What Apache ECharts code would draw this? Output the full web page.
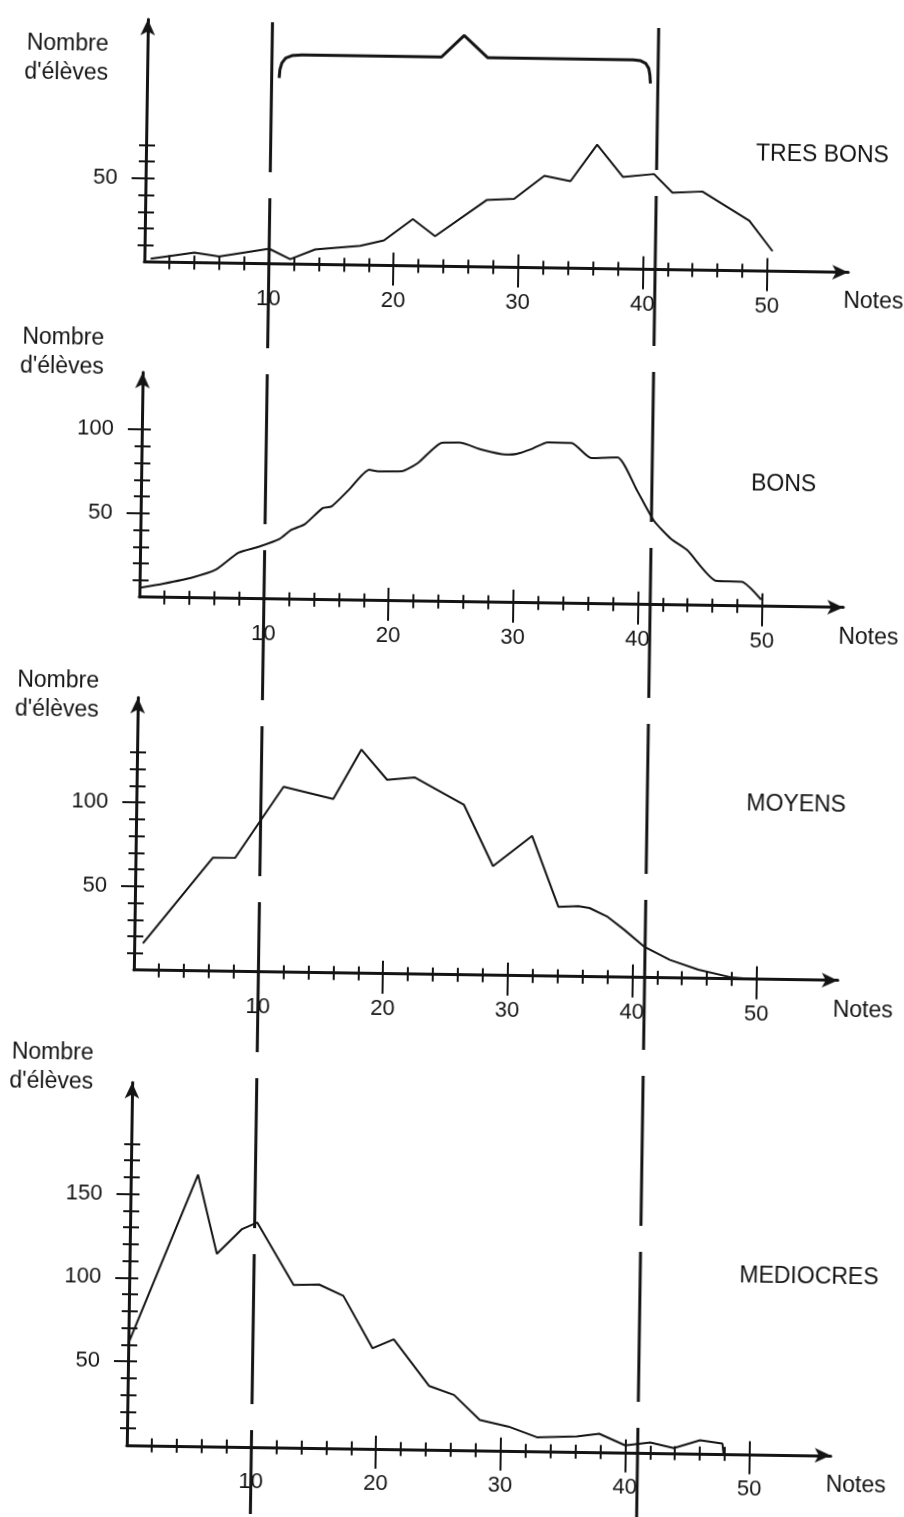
<!DOCTYPE html>
<html><head><meta charset="utf-8">
<script src="https://cdn.jsdelivr.net/npm/echarts@6/dist/echarts.min.js"></script>
<style>
html,body{margin:0;padding:0;background:#fff;overflow:hidden;width:904px;height:1517px}
#chart{width:904px;height:1517px;transform:rotate(0.85deg);transform-origin:452px 758.5px}
</style></head><body><div id="chart"></div>
<script>
// ---------- data ----------
const notesTicks = [10, 20, 30, 40, 50];
const notesMinorTicks = [2,4,6,8,12,14,16,18,22,24,26,28,32,34,36,38,42,44,46,48];
const panelNames = ['TRES BONS', 'BONS', 'MOYENS', 'MEDIOCRES'];

const tresBonsX = [0.5,4,6,10,11.7,13.7,17.3,19.2,21.5,23.3,27.4,29.6,32,34.1,36.2,38.3,40.8,42.3,44.7,48.5,50.4];
const tresBonsY = [2,6,4,9,3,9,11.5,15,28,18,40,41,55,52,74,55,57,46,47,30,12];

const bonsX = [0.1,1.9,4.2,6.1,7.9,9.5,11.2,12.1,13.2,14.6,15.3,16.7,18.3,19,20.9,22.2,24.1,25.5,27.3,29.2,30.1,31.2,32.6,34.5,36.1,38.2,39.8,41.2,42.6,43.9,46.3,48.3,49.9];
const bonsY = [5.6,8.2,12.1,17,27.3,31,36,41.4,45,54.7,55.7,66,78,77.2,77.4,82.5,94.8,95,91,88.3,88.8,91.5,96,95.8,87,87.6,68.2,50.1,39.4,32.9,14.7,14.5,4];

const moyensX = [0.7,6.2,8.0,11.8,15.8,18,20.1,22.3,26.3,28.7,31.8,34,35.6,36.5,37.9,39.3,40.9,43,45.3,48,49.9];
const moyensY = [16,67.7,67.9,110.7,103.8,133.6,115.8,117.5,101.5,65.2,83.6,41.4,42,41,36.2,28.4,18.6,10.8,5.2,0.8,0];

const mediocresX = [0,5.4,7.0,9.0,10.2,13.2,15.25,17.2,19.6,21.3,24.2,26.2,28.3,30.6,32.9,36.1,37.9,40,42,43.9,46,47.8,47.9];
const mediocresY = [60.6,162,115,130,134,97,97.5,91,60,65.5,37.9,32.8,18.1,14.4,8.3,9.1,10.9,4.2,6.2,3,7.9,6.1,0];

// brace above the TRES BONS panel (in that panel's units)
const braceX = [10.6,10.65,10.8,11.1,11.6,12.4,23.6,25.4,27.3,39.0,39.6,40.0,40.25,40.35,40.4];
const braceY = [111,116,120,123,124.5,125,125,138,125,125,124.5,123,120,116,111];

// vertical guide lines (notes)
const guideNotes = [10, 41];

const yMax = [144.8, 134.1, 162.7, 216.4];
const yLabelTicks = [[50], [50, 100], [50, 100], [50, 100, 150]];
const yAllTicks = [
  [10,20,30,40,50,60,70],
  [10,20,30,40,50,60,70,80,90,100],
  [10,20,30,40,50,60,70,80,90,100,110,120,130],
  [10,20,30,40,50,60,70,80,90,100,110,120,130,140,150,160,170,180]
];
const xMax = 56.5;

// ---------- layout / style ----------
const INK = '#141414';
const FONT = '"Liberation Sans", Arial, Helvetica, sans-serif';
const LEFT = 137, PX_X = 12.46, PX_Y = 1.675;
const WIDTH = xMax * PX_X;
const baselines = [266.6, 601.7, 974.7, 1449.8];
const nameGaps = [-39.8, 18.7, 1.2, 13.7];
const titleCY = [150.5, 481, 801, 1273];

const zip = (xs, ys) => xs.map((x, i) => [x, ys[i]]);
const seriesData = [zip(tresBonsX, tresBonsY), zip(bonsX, bonsY), zip(moyensX, moyensY), zip(mediocresX, mediocresY)];

const grids = [], xAxes = [], yAxes = [], series = [], titles = [];
for (let i = 0; i < 4; i++) {
  const h = yMax[i] * PX_Y;
  grids.push({left: LEFT, width: WIDTH, top: baselines[i] - h, height: h, containLabel: false, outerBoundsMode: 'none'});
  const baseX = {type: 'value', gridIndex: i, min: 0, max: xMax, position: 'bottom', splitLine: {show: false}};
  xAxes.push(Object.assign({}, baseX, {
    axisLine: {show: true, onZero: false, symbol: ['none', 'arrow'], symbolSize: [11, 16], lineStyle: {color: INK, width: 3}},
    axisTick: {show: true, inside: false, length: 20, customValues: notesTicks, lineStyle: {color: INK, width: 2}},
    axisLabel: {show: true, customValues: notesTicks, margin: 24, fontSize: 22, color: INK, fontFamily: FONT},
    name: 'Notes', nameLocation: 'end', nameGap: 25.5, nameMoveOverlap: false,
    nameTextStyle: {fontSize: 23, color: INK, fontFamily: FONT, align: 'center', verticalAlign: 'top', padding: [18, 0, 0, 0]}
  }));
  xAxes.push(Object.assign({}, baseX, {
    axisLine: {show: false}, axisLabel: {show: false},
    axisTick: {show: true, inside: true, length: 13, customValues: notesTicks, lineStyle: {color: INK, width: 2}}
  }));
  xAxes.push(Object.assign({}, baseX, {
    axisLine: {show: false}, axisLabel: {show: false},
    axisTick: {show: true, inside: false, length: 7, customValues: notesMinorTicks, lineStyle: {color: INK, width: 2}}
  }));
  xAxes.push(Object.assign({}, baseX, {
    axisLine: {show: false}, axisLabel: {show: false},
    axisTick: {show: true, inside: true, length: 7, customValues: notesMinorTicks, lineStyle: {color: INK, width: 2}}
  }));

  const baseY = {type: 'value', gridIndex: i, min: 0, max: yMax[i], position: 'left', splitLine: {show: false}};
  yAxes.push(Object.assign({}, baseY, {
    axisLine: {show: true, onZero: false, symbol: ['none', 'arrow'], symbolSize: [11, 16], lineStyle: {color: INK, width: 3}},
    axisTick: {show: true, inside: false, length: 14, customValues: yLabelTicks[i], lineStyle: {color: INK, width: 2}},
    axisLabel: {show: true, customValues: yLabelTicks[i], margin: 28, fontSize: 22, color: INK, fontFamily: FONT},
    name: "Nombre\nd'élèves", nameLocation: 'end', nameGap: nameGaps[i], nameMoveOverlap: false,
    nameTextStyle: {fontSize: 23, lineHeight: 29, color: INK, fontFamily: FONT, align: 'right', verticalAlign: 'middle', padding: [0, 39, 0, 0]}
  }));
  yAxes.push(Object.assign({}, baseY, {
    axisLine: {show: false}, axisLabel: {show: false},
    axisTick: {show: true, inside: false, length: 7, customValues: yAllTicks[i], lineStyle: {color: INK, width: 2}}
  }));
  yAxes.push(Object.assign({}, baseY, {
    axisLine: {show: false}, axisLabel: {show: false},
    axisTick: {show: true, inside: true, length: 9, customValues: yAllTicks[i], lineStyle: {color: INK, width: 2}}
  }));

  series.push({
    type: 'line', name: panelNames[i], xAxisIndex: 4 * i, yAxisIndex: 3 * i, data: seriesData[i],
    symbol: 'none', showSymbol: false, smooth: i === 1 ? 0.2 : false, silent: true,
    lineStyle: {color: INK, width: 2}, z: 3, clip: false
  });

  titles.push({
    text: panelNames[i], left: 747, top: titleCY[i] - 12.5, padding: 0,
    textStyle: {fontSize: 23, fontWeight: 'normal', color: INK, fontFamily: FONT}
  });
}

series.push({
  type: 'line', name: 'accolade', xAxisIndex: 0, yAxisIndex: 0, data: zip(braceX, braceY),
  symbol: 'none', showSymbol: false, silent: true, clip: false,
  lineStyle: {color: INK, width: 3}, z: 3
});

// overlay grid for the two vertical guide lines
grids.push({left: LEFT, width: WIDTH, top: 25, bottom: -10, containLabel: false, outerBoundsMode: 'none'});
xAxes.push({type: 'value', gridIndex: 4, min: 0, max: xMax, show: false});
yAxes.push({type: 'value', gridIndex: 4, min: 0, max: 1, show: false});
guideNotes.forEach((g, k) => {
  series.push({
    type: 'line', name: 'guide' + k, xAxisIndex: 16, yAxisIndex: 12,
    data: [[g, 1], [g, 0]], symbol: 'none', showSymbol: false, silent: true,
    lineStyle: {color: INK, width: 3, type: [150, 26], dashOffset: k * 8}, z: 4
  });
});

const chart = echarts.init(document.getElementById('chart'), null, {renderer: 'canvas'});
chart.setOption({
  animation: false,
  backgroundColor: '#ffffff',
  title: titles,
  grid: grids,
  xAxis: xAxes,
  yAxis: yAxes,
  series: series
});
</script></body></html>
